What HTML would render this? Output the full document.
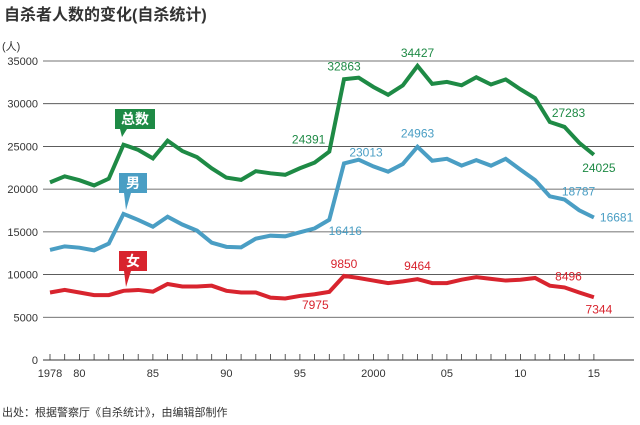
<!DOCTYPE html>
<html><head><meta charset="utf-8"><style>
body{margin:0;background:#fff;width:640px;height:420px;overflow:hidden;font-family:"Liberation Sans","Noto Sans CJK SC",sans-serif}
</style></head><body>
<svg id="c" width="640" height="420" xmlns="http://www.w3.org/2000/svg" font-family="Liberation Sans, Noto Sans CJK SC, sans-serif">
<text x="4" y="20" font-size="16" font-weight="bold" fill="#333">自杀者人数的变化(自杀统计)</text>
<text x="2" y="50" font-size="11" fill="#333">(人)</text>
<text x="2" y="416" font-size="11" fill="#333">出处：根据警察厅《自杀统计》，由编辑部制作</text>
<g id="grid"></g><g id="lines"></g><g id="labels"></g>
</svg>
<script>
const years=[];for(let y=1978;y<=2015;y++)years.push(y);
const totalVals=[20788,21503,21048,20434,21228,25202,24596,23599,25667,24460,23742,22436,21346,21084,22104,21851,21679,22445,23104,24391,32863,33048,31957,31042,32143,34427,32325,32552,32155,33093,32249,32845,31690,30651,27858,27283,25427,24025];
const femaleVals=[7900,8200,7900,7600,7600,8100,8200,8000,8900,8600,8600,8700,8100,7900,7900,7300,7200,7500,7700,7975,9850,9600,9300,9000,9200,9464,9000,9000,9400,9700,9500,9300,9400,9600,8700,8496,7900,7344];
const maleVals=[12888,13303,13148,12834,13628,17102,16396,15599,16767,15860,15142,13736,13246,13184,14204,14551,14479,14945,15404,16416,23013,23448,22657,22042,22943,24963,23325,23552,22755,23393,22749,23545,22290,21051,19158,18787,17527,16681];
const yTicks=[0,5000,10000,15000,20000,25000,30000,35000];
const xLabels={1978:"1978",1980:"80",1985:"85",1990:"90",1995:"95",2000:"2000",2005:"05",2010:"10",2015:"15"};
const X=y=>50+(y-1978)*14.7;
const Y=v=>360-v*0.008543;
const NS="http://www.w3.org/2000/svg";
function mk(t,a,p){const e=document.createElementNS(NS,t);for(const k in a)e.setAttribute(k,a[k]);p.appendChild(e);return e;}
const g=document.getElementById('grid'),L=document.getElementById('lines'),T=document.getElementById('labels');
yTicks.forEach(v=>{
 if(v>0){const l=mk('line',{x1:43,x2:634,y1:Y(v),y2:Y(v),stroke:'#444','stroke-width':0.8},g);
 
 }
 const t=mk('text',{x:38,y:Y(v)+4,'font-size':11,fill:'#333','text-anchor':'end'},g);t.textContent=v;
 
 
});
const ax=mk('line',{x1:43,x2:634,y1:360,y2:360,stroke:'#333','stroke-width':1},g);


years.forEach(y=>{
 const tk=mk('line',{x1:X(y),x2:X(y),y1:354,y2:360,stroke:'#333','stroke-width':0.8},g);
 
 
 if(xLabels[y]){const t=mk('text',{x:X(y),y:377,'font-size':11,fill:'#333','text-anchor':'middle'},g);t.textContent=xLabels[y];
 
 }
});
function series(vals,color,name){
 const p=mk('polyline',{points:vals.map((v,i)=>X(years[i])+','+Y(v)).join(' '),fill:'none',stroke:color,'stroke-width':4,'stroke-linejoin':'miter'},L);
 
 
}
series(totalVals,'#1e8a45','total-line');
series(maleVals,'#4a9ec4','male-line');
series(femaleVals,'#d8242e','female-line');
function lab(yr,vals,dx,dy,color,anchor){
 const i=years.indexOf(yr);const t=mk('text',{x:X(yr)+dx,y:Y(vals[i])+dy,'font-size':12,fill:color,'text-anchor':anchor||'middle'},T);t.textContent=vals[i];
 
 
}
const gc='#1e8a45',bc='#4a9ec4',rc='#d8242e';
lab(1997,totalVals,-4,-8,gc,'end');lab(1998,totalVals,0,-9,gc);lab(2003,totalVals,0,-9,gc);lab(2013,totalVals,4,-10,gc);lab(2015,totalVals,5,17,gc);
lab(1997,maleVals,16,15,bc);lab(1998,maleVals,22,-7,bc);lab(2003,maleVals,0,-9,bc);lab(2013,maleVals,14,-4,bc,'middle');lab(2015,maleVals,6,4,bc,'start');
lab(1997,femaleVals,-14,17,rc);lab(1998,femaleVals,0,-8,rc);lab(2003,femaleVals,0,-9,rc);lab(2013,femaleVals,4,-7,rc);lab(2015,femaleVals,5,16,rc);
function callout(x,y,w,h,px,py,color,txt,name){
 const gr=mk('g',{},T);
 
 
 mk('rect',{x:x,y:y,width:w,height:h,fill:color},gr);
 mk('polygon',{points:`${x+5},${y+h} ${x+12},${y+h} ${px},${py}`,fill:color},gr);
 const t=mk('text',{x:x+w/2,y:y+h/2+5,'font-size':14,'font-weight':'bold',fill:'#fff','text-anchor':'middle'},gr);t.textContent=txt;
}
callout(115,109,40,20,122,137,gc,'总数','total-callout');
callout(119,173,28,20,126,210,bc,'男','male-callout');
callout(119,251,28,20,126,287,rc,'女','female-callout');
</script>
</body></html>
